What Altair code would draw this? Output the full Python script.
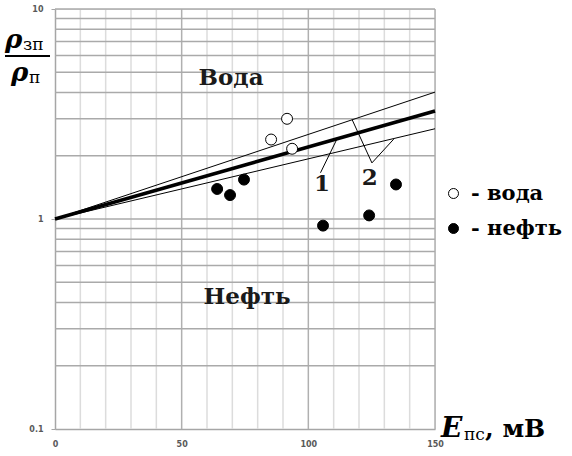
import altair as alt
import pandas as pd

# ---- data ----
voda_x = [85.3, 91.6, 93.6]
voda_y = [2.39, 3.0, 2.16]
neft_x = [64.0, 69.1, 74.6, 105.8, 124.0, 134.6]
neft_y = [1.39, 1.30, 1.54, 0.93, 1.04, 1.46]

line_x = [0, 150]
line_main = [1.0, 3.27]
line_upper = [1.0, 4.02]
line_lower = [1.0, 2.69]

leader_x1 = [104.8, 125.1, 125.1]
leader_y1 = [1.66, 1.85, 1.85]
leader_x2 = [111.2, 117.3, 133.7]
leader_y2 = [2.39, 2.97, 2.40]

label_text = ["Вода", "Нефть", "1", "2"]
label_x = [69.5, 75.8, 105.4, 124.2]
label_y = [4.70, 0.424, 1.46, 1.56]
label_size = [23, 23, 23, 23]

x_ticks = [0, 50, 100, 150]
y_ticks = [0.1, 1, 10]
x_grid_minor = [10, 20, 30, 40, 60, 70, 80, 90, 110, 120, 130, 140]
x_grid_major = [50, 100, 150]
y_grid = [0.2, 0.3, 0.4, 0.5, 0.6, 0.7, 0.8, 0.9, 1,
          2, 3, 4, 5, 6, 7, 8, 9, 10]

W, H = 380, 420
xs = alt.Scale(domain=[0, 150], nice=False, zero=False)
ys = alt.Scale(type="log", domain=[0.1, 10], nice=False)

AXIS_GRAY = "#a6a6a6"
SERIF = "DejaVu Serif"

base_axes = alt.Chart(pd.DataFrame({"x": [0], "y": [1]})).mark_point(opacity=0).encode(
    x=alt.X("x:Q", scale=xs, axis=alt.Axis(values=x_ticks, grid=False, ticks=False,
            title=None, labelFont="DejaVu Sans", labelFontSize=8, labelFontWeight="bold",
            labelColor="#595959", labelPadding=11, domainColor=AXIS_GRAY, domainWidth=1.5,
            labelFlush=False)),
    y=alt.Y("y:Q", scale=ys, axis=alt.Axis(values=y_ticks, grid=False, ticks=True, tickSize=4,
            tickColor=AXIS_GRAY, format="~g", title=None, labelFont="DejaVu Sans", labelFontSize=8,
            labelFontWeight="bold", labelColor="#595959", labelPadding=8,
            domainColor=AXIS_GRAY, domainWidth=1.5, labelFlush=False)),
)

vmin = alt.Chart(pd.DataFrame({"x": x_grid_minor})).mark_rule(color="#dcdcdc", strokeWidth=1.5).encode(
    x=alt.X("x:Q", scale=xs))
vmaj = alt.Chart(pd.DataFrame({"x": x_grid_major})).mark_rule(color="#b0b0b0", strokeWidth=1.5).encode(
    x=alt.X("x:Q", scale=xs))
hgrid = alt.Chart(pd.DataFrame({"y": y_grid})).mark_rule(color="#aaaaaa", strokeWidth=1.5).encode(
    y=alt.Y("y:Q", scale=ys))

def line(vals, w):
    df = pd.DataFrame({"x": line_x, "y": vals})
    return alt.Chart(df).mark_line(color="black", strokeWidth=w).encode(
        x=alt.X("x:Q", scale=xs), y=alt.Y("y:Q", scale=ys))

leaders = alt.Chart(pd.DataFrame({"x": leader_x1, "y": leader_y1, "x2": leader_x2, "y2": leader_y2})
                    ).mark_rule(color="black", strokeWidth=1).encode(
    x=alt.X("x:Q", scale=xs), y=alt.Y("y:Q", scale=ys), x2="x2:Q", y2="y2:Q")

pts = pd.DataFrame({
    "x": voda_x + neft_x,
    "y": voda_y + neft_y,
    "t": ["вода"] * len(voda_x) + ["нефть"] * len(neft_x),
})
points = alt.Chart(pts).mark_point(filled=True, shape="circle", size=120, stroke="black",
                                   strokeWidth=1, opacity=1).encode(
    x=alt.X("x:Q", scale=xs), y=alt.Y("y:Q", scale=ys),
    fill=alt.Fill("t:N", scale=alt.Scale(domain=["вода", "нефть"], range=["white", "black"]),
                  legend=alt.Legend(orient="none", legendX=388, legendY=174, title=None,
                                    labelFont=SERIF, labelFontSize=21,
                                    labelFontWeight="bold", labelColor="black",
                                    symbolSize=100, symbolStrokeColor="black",
                                    symbolStrokeWidth=1, symbolType="circle",
                                    rowPadding=13, labelOffset=7, padding=0,
                                    labelExpr="'- ' + datum.label")),
)

labels = alt.Chart(pd.DataFrame({"t": label_text, "x": label_x, "y": label_y, "s": label_size})
                   ).mark_text(font=SERIF, fontWeight="bold", color="#1a1a1a",
                               align="center", baseline="middle").encode(
    x=alt.X("x:Q", scale=xs), y=alt.Y("y:Q", scale=ys), text="t:N",
    size=alt.Size("s:Q", scale=None, legend=None))

def txt(s, x, y, size, style="normal", weight="bold"):
    return alt.Chart(pd.DataFrame({"t": [s]})).mark_text(
        font=SERIF, fontSize=size, fontStyle=style, fontWeight=weight,
        color="black", align="left", baseline="alphabetic").encode(
        text="t:N", x=alt.value(x), y=alt.value(y))

ytitle = [
    txt("ρ", -50, 39, 26, "italic"),
    txt("зп", -32, 41, 17, "normal", "normal"),
    txt("ρ", -44, 72, 26, "italic"),
    txt("п", -26, 74, 17, "normal", "normal"),
    alt.Chart(pd.DataFrame({"a": [0]})).mark_rule(color="black", strokeWidth=2).encode(
        x=alt.value(-50), x2=alt.value(-5), y=alt.value(47)),
]
xtitle = [
    txt("E", 386, 428, 28, "italic"),
    txt("пс", 409, 431, 17, "normal", "normal"),
    txt(", мВ", 430, 428, 25, "normal", "bold"),
]

chart = alt.layer(
    vmin, vmaj, hgrid, base_axes,
    line(line_upper, 1), line(line_lower, 1), line(line_main, 3.5),
    leaders, points, labels, *ytitle, *xtitle,
).properties(
    width=W, height=H,
    autosize=alt.AutoSizeParams(type="none"),
    padding={"left": 55, "top": 9, "right": 572 - 55 - W, "bottom": 456 - 9 - H},
).configure_view(stroke=None).configure(background="white")

chart.save("out.html", embed_options={"renderer": "svg", "actions": False})
